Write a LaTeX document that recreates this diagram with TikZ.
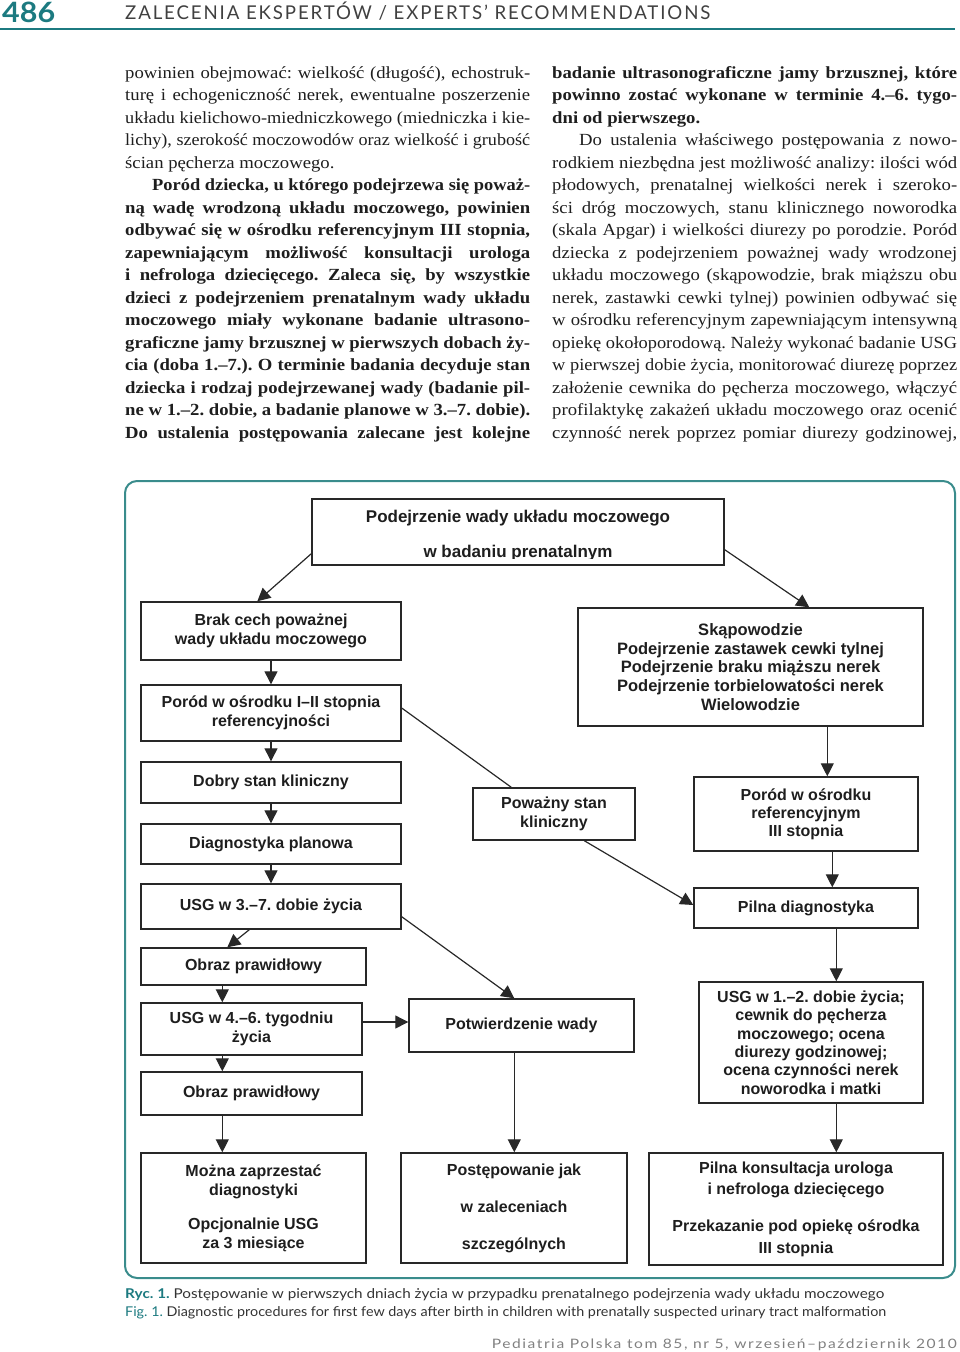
\documentclass[tikz,border=0pt]{standalone}
\usepackage{fontspec}
\usepackage{graphicx}
\setmainfont[FakeStretch=1.10]{Liberation Serif}
\newfontfamily\flowfont{Liberation Sans}
\newfontfamily\capfont{Lato}
\newfontfamily\headfont[LetterSpace=10]{Lato}
\usetikzlibrary{arrows.meta,calc}
\definecolor{teal1}{RGB}{28,122,128}
\definecolor{frameteal}{RGB}{58,140,140}
\definecolor{ink}{RGB}{30,30,30}
\definecolor{lineink}{RGB}{40,40,40}
\frenchspacing
\newlength\jlw
\newcommand\fitw[2]{\settowidth\jlw{#2}\ifdim\jlw>#1\relax\resizebox{#1}{\height}{#2}\else\makebox[#1][s]{#2}\fi}
\newcommand\forcew[2]{\resizebox{#1}{\height}{#2}}
\newcommand\J[1]{\fitw{405pt}{#1}}
\newcommand\JI[1]{\fitw{378pt}{#1}}
\begin{document}
\begin{tikzpicture}[x=1pt,y=-1pt,
  body/.style={anchor=base west,inner sep=0pt,font=\fontsize{17}{20}\selectfont,text=ink},
  bbody/.style={body,font=\fontsize{17}{20}\selectfont\bfseries},
  box/.style={draw=lineink,line width=1.4pt,inner sep=0pt,align=center,text=ink,
    font=\flowfont\bfseries\fontsize{16}{19}\selectfont},
  flowtxt/.style={inner sep=0pt,align=center,text=ink,font=\flowfont\bfseries\fontsize{17}{19}\selectfont},
  arr/.style={draw=lineink,line width=1.2pt,-{Triangle[length=13pt,width=13pt]}},
  ln/.style={draw=lineink,line width=1.2pt}]
\useasboundingbox (0,0) rectangle (960,1352);
% header
\node[anchor=base west,inner sep=0pt,text=teal1] (pg) at (2,22) {\forcew{53pt}{\capfont\bfseries\fontsize{28}{30}\selectfont 486}};
\node[anchor=base west,inner sep=0pt,text=black!75] (head) at (125,19.5) {\forcew{585pt}{\headfont\fontsize{19}{22}\selectfont ZALECENIA EKSPERTÓW / EXPERTS’ RECOMMENDATIONS}};
\draw[teal1,line width=2.5pt] (0,29) -- (955,29);
% left column
\node[body] (l1) at (125,78) {\J{powinien obejmować: wielkość (długość), echostruk-}};
\node[body] (l2) at (125,100.5) {\J{turę i echogeniczność nerek, ewentualne poszerzenie}};
\node[body] (l3) at (125,123) {\J{układu kielichowo-miedniczkowego (miedniczka i kie-}};
\node[body] (l4) at (125,145.5) {\J{lichy), szerokość moczowodów oraz wielkość i grubość}};
\node[body] (l5) at (125,168) {ścian pęcherza moczowego.};
\node[bbody] (l6) at (152,190.5) {\JI{Poród dziecka, u którego podejrzewa się poważ-}};
\node[bbody] (l7) at (125,213) {\J{ną wadę wrodzoną układu moczowego, powinien}};
\node[bbody] (l8) at (125,235.5) {\J{odbywać się w ośrodku referencyjnym III stopnia,}};
\node[bbody] (l9) at (125,258) {\J{zapewniającym możliwość konsultacji urologa}};
\node[bbody] (l10) at (125,280.5) {\J{i nefrologa dziecięcego. Zaleca się, by wszystkie}};
\node[bbody] (l11) at (125,303) {\J{dzieci z podejrzeniem prenatalnym wady układu}};
\node[bbody] (l12) at (125,325.5) {\J{moczowego miały wykonane badanie ultrasono-}};
\node[bbody] (l13) at (125,348) {\J{graficzne jamy brzusznej w pierwszych dobach ży-}};
\node[bbody] (l14) at (125,370.5) {\J{cia (doba 1.–7.). O terminie badania decyduje stan}};
\node[bbody] (l15) at (125,393) {\J{dziecka i rodzaj podejrzewanej wady (badanie pil-}};
\node[bbody] (l16) at (125,415.5) {\J{ne w 1.–2. dobie, a badanie planowe w 3.–7. dobie).}};
\node[bbody] (l17) at (125,438) {\J{Do ustalenia postępowania zalecane jest kolejne}};
% right column
\node[bbody] (r1) at (552,78) {\J{badanie ultrasonograficzne jamy brzusznej, które}};
\node[bbody] (r2) at (552,100.5) {\J{powinno zostać wykonane w terminie 4.–6. tygo-}};
\node[bbody] (r3) at (552,123) {dni od pierwszego.};
\node[body] (r4) at (579,145.5) {\JI{Do ustalenia właściwego postępowania z nowo-}};
\node[body] (r5) at (552,168) {\J{rodkiem niezbędna jest możliwość analizy: ilości wód}};
\node[body] (r6) at (552,190.5) {\J{płodowych, prenatalnej wielkości nerek i szeroko-}};
\node[body] (r7) at (552,213) {\J{ści dróg moczowych, stanu klinicznego noworodka}};
\node[body] (r8) at (552,235.5) {\J{(skala Apgar) i wielkości diurezy po porodzie. Poród}};
\node[body] (r9) at (552,258) {\J{dziecka z podejrzeniem poważnej wady wrodzonej}};
\node[body] (r10) at (552,280.5) {\J{układu moczowego (skąpowodzie, brak miąższu obu}};
\node[body] (r11) at (552,303) {\J{nerek, zastawki cewki tylnej) powinien odbywać się}};
\node[body] (r12) at (552,325.5) {\J{w ośrodku referencyjnym zapewniającym intensywną}};
\node[body] (r13) at (552,348) {\J{opiekę okołoporodową. Należy wykonać badanie USG}};
\node[body] (r14) at (552,370.5) {\J{w pierwszej dobie życia, monitorować diurezę poprzez}};
\node[body] (r15) at (552,393) {\J{założenie cewnika do pęcherza moczowego, włączyć}};
\node[body] (r16) at (552,415.5) {\J{profilaktykę zakażeń układu moczowego oraz ocenić}};
\node[body] (r17) at (552,438) {\J{czynność nerek poprzez pomiar diurezy godzinowej,}};
% frame
\draw[frameteal,line width=2pt,rounded corners=12pt] (125,481) rectangle (955,1278);
% boxes
\node[box,minimum width=412,minimum height=66] (top) at (518,532) {};
\begin{scope}
\clip (top.north west) rectangle ($(top.south east)+(0,-7)$);
\node[flowtxt] (toptxt) at (518,536) {Podejrzenie wady układu moczowego\\[16pt]w badaniu prenatalnym};
\end{scope}
\node[box,minimum width=260,minimum height=58] (brak) at (271,631) {Brak cech poważnej\\wady układu moczowego};
\node[box,minimum width=260,minimum height=56] (p12) at (271,713) {Poród w ośrodku I–II stopnia\\referencyjności};
\node[box,minimum width=345,minimum height=118,font=\flowfont\bfseries\fontsize{16.5}{18.6}\selectfont] (skap) at (750.5,667) {Skąpowodzie\\Podejrzenie zastawek cewki tylnej\\Podejrzenie braku miąższu nerek\\Podejrzenie torbielowatości nerek\\Wielowodzie};
\node[box,minimum width=260,minimum height=41] (dobry) at (271,782.5) {Dobry stan kliniczny};
\node[box,minimum width=260,minimum height=40] (diag) at (271,844) {Diagnostyka planowa};
\node[box,minimum width=260,minimum height=45] (usg37) at (271,906.5) {USG w 3.–7. dobie życia};
\node[box,minimum width=225,minimum height=37] (obraz1) at (253.5,966.5) {Obraz prawidłowy};
\node[box,minimum width=221,minimum height=52] (usg46) at (251.5,1029) {USG w 4.–6. tygodniu\\życia};
\node[box,minimum width=221,minimum height=43] (obraz2) at (251.5,1093.5) {Obraz prawidłowy};
\node[box,minimum width=162,minimum height=52] (powazny) at (554,814) {Poważny stan\\kliniczny};
\node[box,minimum width=224,minimum height=74,font=\flowfont\bfseries\fontsize{16}{18}\selectfont] (p3) at (806,814) {Poród w ośrodku\\referencyjnym\\III stopnia};
\node[box,minimum width=224,minimum height=40] (pilna) at (806,908) {Pilna diagnostyka};
\node[box,minimum width=225,minimum height=53] (potw) at (521.5,1025.5) {Potwierdzenie wady};
\node[box,minimum width=224,minimum height=121,font=\flowfont\bfseries\fontsize{16}{18.4}\selectfont] (usg12) at (811,1042.5) {USG w 1.–2. dobie życia;\\cewnik do pęcherza\\moczowego; ocena\\diurezy godzinowej;\\ocena czynności nerek\\noworodka i matki};
\node[box,minimum width=225,minimum height=110] (bl) at (253.5,1208) {Można zaprzestać\\diagnostyki\\[15pt]Opcjonalnie USG\\za 3 miesiące};
\node[box,minimum width=226,minimum height=110] (bm) at (514,1208) {Postępowanie jak\\[18pt]w zaleceniach\\[18pt]szczególnych};
\node[box,minimum width=294,minimum height=112,font=\flowfont\bfseries\fontsize{16}{21.5}\selectfont] (br) at (796,1209) {Pilna konsultacja urologa\\i nefrologa dziecięcego\\[15.5pt]Przekazanie pod opiekę ośrodka\\III stopnia};
% connectors
\draw[arr] ($(top.south west)+(0,-12)$) -- ($(brak.north west)+(117,0)$);
\draw[arr] ($(top.south east)+(0,-16)$) -- ($(skap.north west)+(232,0)$);
\draw[arr] (brak.south) -- (p12.north);
\draw[arr] (p12.south) -- (dobry.north);
\draw[arr] (dobry.south) -- (diag.north);
\draw[arr] (diag.south) -- (usg37.north);
\draw[arr] ($(usg37.south west)+(109,0)$) -- ($(obraz1.north west)+(87,0)$);
\draw[arr] ($(usg37.south east)+(0,-13)$) -- ($(potw.north west)+(106,0)$);
\draw[arr] ($(obraz1.south west)+(82,0)$) -- ($(usg46.north west)+(82,0)$);
\draw[arr] ($(usg46.east)+(0,-7)$) -- ($(potw.west)+(0,-3.5)$);
\draw[arr] ($(usg46.south west)+(82,0)$) -- ($(obraz2.north west)+(82,0)$);
\draw[arr] ($(obraz2.south west)+(82,0)$) -- ($(bl.north west)+(82,0)$);
\draw[arr] ($(potw.south west)+(106,0)$) -- ($(bm.north west)+(114,0)$);
\draw[ln] ($(p12.east)+(0,-5)$) -- ($(powazny.north west)+(39,0)$);
\draw[arr] ($(powazny.south west)+(112,0)$) -- ($(pilna.west)+(0,-3)$);
\draw[arr] ($(skap.south west)+(250,0)$) -- ($(p3.north west)+(134,0)$);
\draw[arr] ($(p3.south west)+(139,0)$) -- ($(pilna.north west)+(139,0)$);
\draw[arr] ($(pilna.south west)+(143,0)$) -- ($(usg12.north west)+(138,0)$);
\draw[arr] ($(usg12.south west)+(138,0)$) -- ($(br.north west)+(188,0)$);
% caption
\node[anchor=base west,inner sep=0pt,text=black!80] (cap1) at (125,1298) {\forcew{759pt}{\capfont\fontsize{13.5}{16}\selectfont\textcolor{teal1}{\bfseries Ryc. 1.} Postępowanie w pierwszych dniach życia w przypadku prenatalnego podejrzenia wady układu moczowego}};
\node[anchor=base west,inner sep=0pt,text=black!80] (cap2) at (125,1316) {\forcew{761pt}{\capfont\fontsize{13.5}{16}\selectfont\textcolor{teal1}{Fig. 1.} Diagnostic procedures for first few days after birth in children with prenatally suspected urinary tract malformation}};
% footer
\node[anchor=base east,inner sep=0pt,text=black!50] (foot) at (957,1348) {\forcew{465pt}{\headfont\fontsize{13}{15}\selectfont Pediatria Polska tom 85, nr 5, wrzesień–październik 2010}};
\end{tikzpicture}
\end{document}
